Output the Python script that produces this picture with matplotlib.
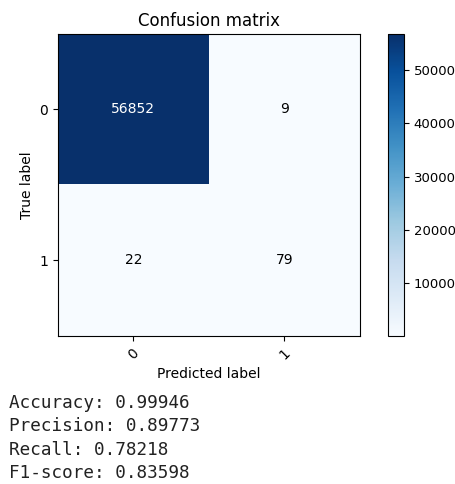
import matplotlib
matplotlib.use("Agg")
import matplotlib.pyplot as plt
import numpy as np

# confusion matrix values and summary metrics
classes = ["0", "1"]
cm = np.array([[56852, 9],
               [22, 79]])
metric_names = ["Accuracy", "Precision", "Recall", "F1-score"]
metric_values = [0.99946, 0.89773, 0.78218, 0.83598]

fig = plt.figure(figsize=(4.56, 4.84), dpi=100)
ax = fig.add_axes([0.127, 0.306, 0.662, 0.624])
cax = fig.add_axes([0.851, 0.306, 0.035, 0.624])

im = ax.imshow(cm, interpolation="nearest", cmap=plt.cm.Blues, aspect="auto")
ax.set_title("Confusion matrix", fontsize=12)
cb = fig.colorbar(im, cax=cax)
cb.ax.tick_params(labelsize=9.5)

ticks = np.arange(len(classes))
ax.set_xticks(ticks)
ax.set_xticklabels(classes, rotation=45)
ax.set_yticks(ticks)
ax.set_yticklabels(classes)

thresh = cm.max() / 2.
for i in range(cm.shape[0]):
    for j in range(cm.shape[1]):
        ax.text(j, i, format(cm[i, j], "d"), ha="center", va="center",
                color="white" if cm[i, j] > thresh else "black")

ax.set_ylabel("True label")
ax.set_xlabel("Predicted label")

# printed metrics under the plot
for k, (name, val) in enumerate(zip(metric_names, metric_values)):
    fig.text(0.02, 1 - (403 + 23.3 * k) / 484, f"{name}: {val:.5f}",
             family="DejaVu Sans Mono", fontsize=12.7, va="center", color="#222222")

fig.savefig("out.png", dpi=100)
